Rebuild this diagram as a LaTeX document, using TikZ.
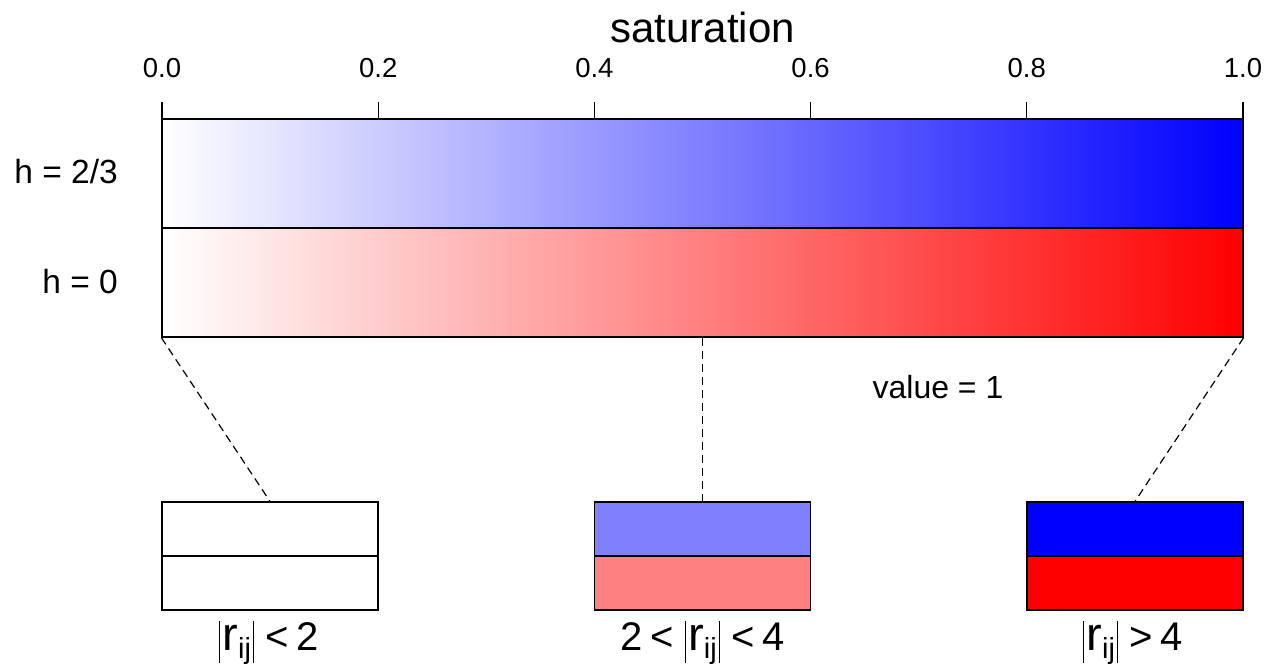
\documentclass[tikz,border=0pt]{standalone}
\usepackage{fontspec}
\setmainfont{Liberation Sans}
\definecolor{midblue}{RGB}{128,128,255}
\definecolor{midred}{RGB}{255,128,128}
\newcommand\absbar{\rule[-13pt]{1.3pt}{42pt}}
\newcommand\absrij{\absbar\hspace{2pt}{\fontsize{47pt}{47pt}\selectfont r}\raisebox{-8pt}{\fontsize{29pt}{29pt}\selectfont ij}\hspace{2pt}\absbar}
\begin{document}
\begin{tikzpicture}[x=1pt,y=-1pt,
  bar/.style={draw=black, line width=1.3pt, inner sep=0pt, minimum width=1081pt, minimum height=109pt},
  swatch/.style={draw=black, line width=1.3pt, inner sep=0pt, minimum width=216pt, minimum height=54pt},
  tickl/.style={font=\fontsize{27.5pt}{27.5pt}\selectfont, anchor=base, inner sep=0pt},
  side/.style={font=\fontsize{33.5pt}{33.5pt}\selectfont, anchor=base east, inner sep=0pt},
  guide/.style={dash pattern=on 8pt off 5pt, line width=1.2pt},
  ticks/.style={line width=1.3pt},
  caplabel/.style={font=\fontsize{40pt}{40pt}\selectfont, anchor=base, inner sep=0pt}]
\useasboundingbox (0,0) rectangle (1268,666);

% gradient bars
\node[bar, left color=white, right color=blue] (hb) at (702.5,173.5) {};
\node[bar, left color=white, right color=red] (hr) at (702.5,282.5) {};

% axis
\draw[ticks] (hb.north west) -- (hb.north east);
\foreach \i/\l in {0/0.0,1/0.2,2/0.4,3/0.6,4/0.8,5/1.0}{
  \coordinate (tk\i) at (162+216.2*\i,119);
  \draw[ticks] (tk\i) -- ++(0,-17);
  \node[tickl] (tl\i) at (162+216.2*\i,78) {\l};
}
\node[font=\fontsize{42pt}{42pt}\selectfont, anchor=base, inner sep=0pt] (title) at (702.5,43) {saturation};

% side labels
\node[side] (lh1) at (118,183) {h = 2/3};
\node[side] (lh0) at (118,293) {h = 0};
\node[font=\fontsize{32pt}{32pt}\selectfont, anchor=base, inner sep=0pt] (val) at (938,398) {value = 1};

% swatches
\node[swatch, fill=white] (aT) at (270,529) {};
\node[swatch, fill=white] (aB) at (270,583) {};
\node[swatch, fill=midblue] (bT) at (702.5,529) {};
\node[swatch, fill=midred] (bB) at (702.5,583) {};
\node[swatch, fill=blue] (cT) at (1135,529) {};
\node[swatch, fill=red] (cB) at (1135,583) {};

% guides
\draw[guide] (hr.south west) -- (aT.north);
\draw[guide] (hr.south) -- (bT.north);
\draw[guide] (hr.south east) -- (cT.north);

% captions
\node[caplabel] (ca) at (269,650) {\absrij\hspace{11pt}<\hspace{8pt}2};
\node[caplabel] (cb) at (702.5,650) {2\hspace{8pt}<\hspace{11pt}\absrij\hspace{11pt}<\hspace{8pt}4};
\node[caplabel] (cc) at (1133,650) {\absrij\hspace{11pt}>\hspace{8pt}4};
\end{tikzpicture}
\end{document}
